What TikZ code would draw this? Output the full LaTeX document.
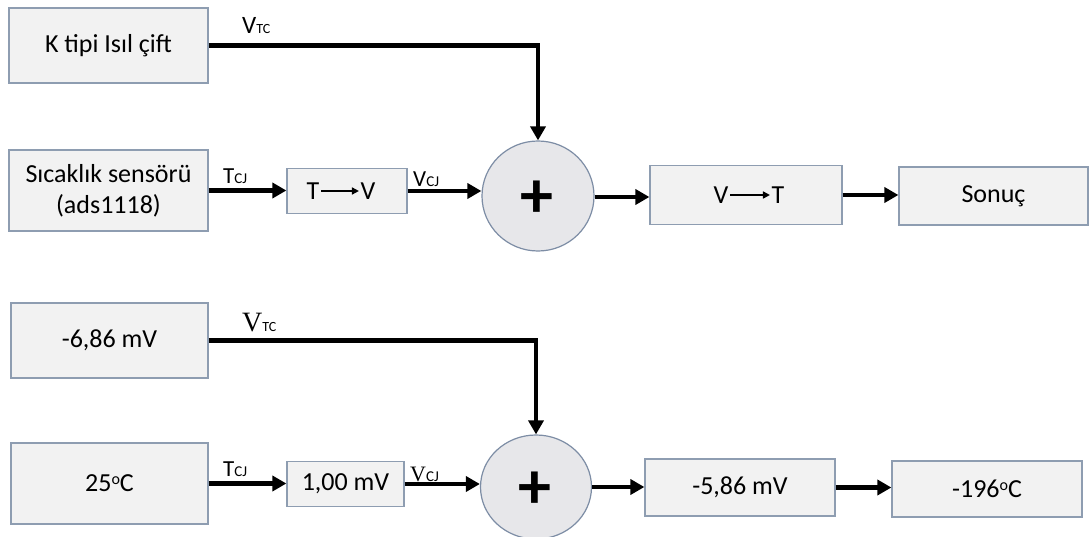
\documentclass[tikz,border=0pt]{standalone}
\usepackage{fontspec}
\setmainfont{Carlito}
\newfontfamily\serifl{Liberation Serif}
\usetikzlibrary{arrows.meta,shapes.geometric}
\definecolor{boxline}{HTML}{8E9DB1}
\definecolor{boxfill}{HTML}{F2F2F2}
\definecolor{circfill}{HTML}{E7E7EA}
\definecolor{circline}{HTML}{7D8DA5}
\begin{document}
\begin{tikzpicture}[x=1pt,y=-1pt,
  box/.style={rectangle,draw=boxline,fill=boxfill,line width=1.2pt,inner sep=0pt,
    align=center,font=\fontsize{26}{31}\selectfont},
  sumnode/.style={ellipse,draw=circline,fill=circfill,line width=1.2pt,inner sep=0pt},
  plus/.style={inner sep=0pt,font=\fontsize{66}{66}\selectfont\bfseries},
  arr/.style={line width=4.5pt,-{Triangle[length=14pt,width=15pt]}},
  thinarr/.style={line width=1.6pt,-{Triangle[length=7pt,width=7pt]}},
  lbl/.style={inner sep=0pt,anchor=base west},
  inner/.style={inner sep=1.5pt,font=\fontsize{26}{26}\selectfont}]
\useasboundingbox (0,0) rectangle (1089,537);
\fill[white] (0,0) rectangle (1089,537);

% ---------- top diagram ----------
\node[box,minimum width=199pt,minimum height=75pt] (k) at (108.5,45.5) {K tipi Isıl çift};
\node[box,minimum width=199pt,minimum height=81pt] (sic) at (108.5,190.5) {Sıcaklık sensörü\\(ads1118)};
\node[box,minimum width=120pt,minimum height=45pt] (tv) at (347,191) {};
\node[inner] (tvT) at (313,191) {T};
\node[inner] (tvV) at (368,191) {V};
\draw[thinarr] (tvT.east) -- (tvV.west);
\node[sumnode,minimum width=112pt,minimum height=110pt] (c1) at (538,196) {};
\node[plus] (p1) at (537,199) {+};
\node[box,minimum width=192pt,minimum height=59pt] (vt) at (746,195) {};
\node[inner] (vtV) at (721,195) {V};
\node[inner] (vtT) at (778,195) {T};
\draw[thinarr] (vtV.east) -- (vtT.west);
\node[box,minimum width=189pt,minimum height=58pt] (son) at (993.5,196) {Sonuç};

\draw[arr] (k.east) -| (c1.north);
\draw[arr] (sic.east) -- (sic.east -| tv.west);
\draw[arr] (tv.east) -- (tv.east -| c1.west);
\draw[arr] ([yshift=-1pt]c1.east) -- ([yshift=-1pt]c1.east -| vt.west);
\draw[arr] (vt.east) -- (vt.east -| son.west);

\node[lbl] (lvtc1) at (242,34) {\fontsize{25}{25}\selectfont V\fontsize{14}{14}\selectfont TC};
\node[lbl] (ltcj1) at (223,184) {\fontsize{23}{23}\selectfont T\fontsize{15}{15}\selectfont CJ};
\node[lbl] (lvcj1) at (413,187) {\fontsize{23}{23}\selectfont V\fontsize{15}{15}\selectfont CJ};

% ---------- bottom diagram ----------
\node[box,minimum width=197pt,minimum height=75pt] (m1) at (109.5,340.5) {-6,86 mV};
\node[box,minimum width=197pt,minimum height=81pt] (t25) at (109.5,483.5) {25\raisebox{0.6ex}{\fontsize{16}{16}\selectfont o}C};
\node[box,minimum width=117pt,minimum height=45pt] (m2) at (345.5,484) {1,00 mV};
\node[sumnode,minimum width=111pt,minimum height=104pt] (c2) at (536,487) {};
\node[plus] (p2) at (535,490) {+};
\node[box,minimum width=190pt,minimum height=57pt] (m3) at (740,487.5) {-5,86 mV};
\node[box,minimum width=190pt,minimum height=56pt] (res) at (987,489) {-196\raisebox{0.6ex}{\fontsize{16}{16}\selectfont o}C};

\draw[arr] (m1.east) -| (c2.north);
\draw[arr] (t25.east) -- (t25.east -| m2.west);
\draw[arr] (m2.east) -- (m2.east -| c2.west);
\draw[arr] (c2.east) -- (c2.east -| m3.west);
\draw[arr] (m3.east) -- (m3.east -| res.west);

\node[lbl] (lvtc2) at (242,331) {\serifl\fontsize{28}{28}\selectfont V\normalfont\fontsize{14}{14}\selectfont TC};
\node[lbl] (ltcj2) at (223,476) {\fontsize{23}{23}\selectfont T\fontsize{15}{15}\selectfont CJ};
\node[lbl] (lvcj2) at (410,481) {\serifl\fontsize{22}{22}\selectfont V\normalfont\fontsize{15}{15}\selectfont CJ};
\end{tikzpicture}
\end{document}
